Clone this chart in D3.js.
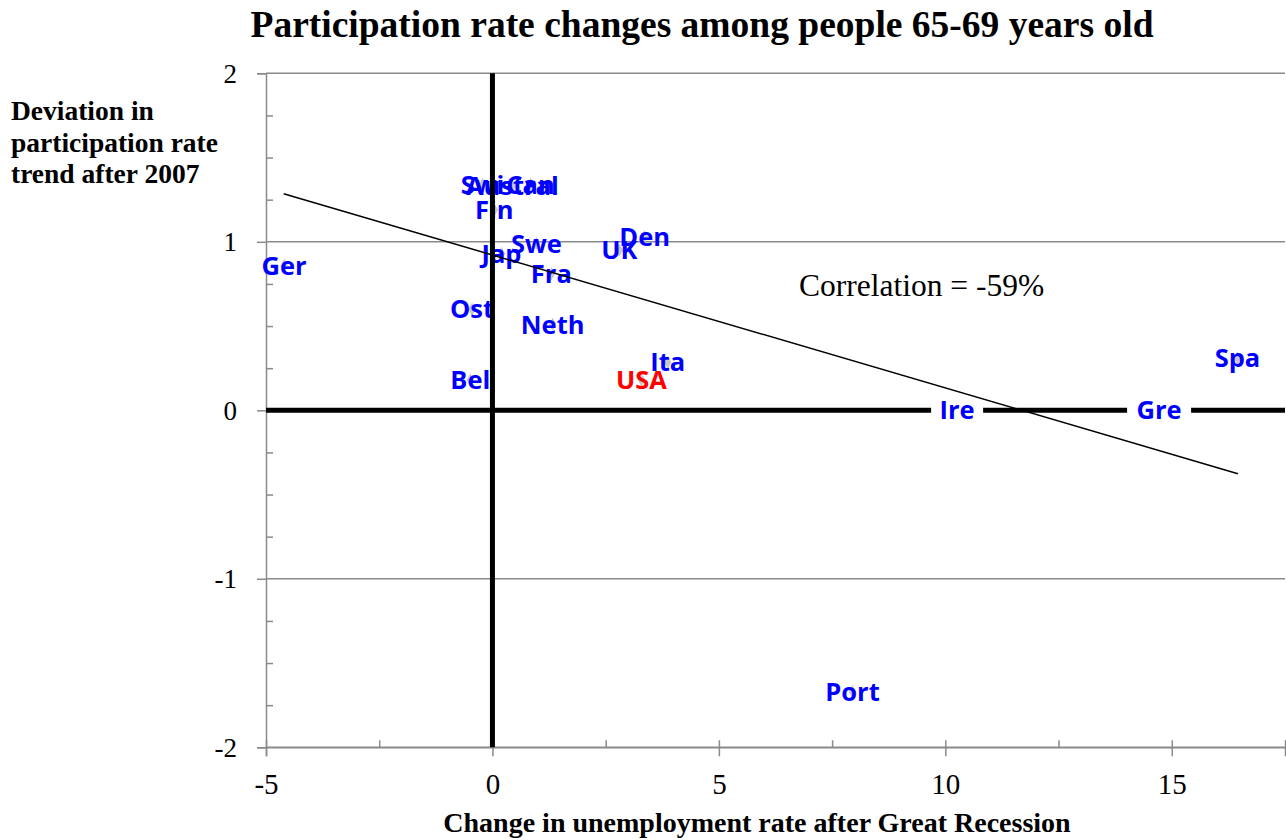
<!DOCTYPE html>
<html>
<head>
<meta charset="utf-8">
<script src="https://cdn.jsdelivr.net/npm/d3@7/dist/d3.min.js"></script>
<style>
  html, body { margin: 0; padding: 0; background: #fff; }
  svg { display: block; }
</style>
</head>
<body>
<svg id="chart" width="1286" height="840"></svg>
<script>
// ---- data ----
const countries = ["Ger", "Swi", "Austral", "Can", "Fin", "Swe", "Jap", "Fra", "UK", "Den",
                   "Ost", "Neth", "Bel", "Ita", "USA", "Ire", "Gre", "Spa", "Port"];
const unemploymentChange = [-4.6, -0.22, 0.44, 0.84, 0.04, 0.97, 0.2, 1.3, 2.8, 3.36,
                            -0.45, 1.33, -0.49, 3.87, 3.29, 10.26, 14.72, 16.45, 7.95];
const participationDeviation = [0.86, 1.34, 1.33, 1.34, 1.19, 0.99, 0.93, 0.81, 0.95, 1.03,
                                0.60, 0.51, 0.18, 0.285, 0.18, 0.0, 0.0, 0.31, -1.67];
const highlighted = ["USA"];
const boxedLabels = ["Ire", "Gre"];
const trendX = [-4.61, 16.46];
const trendY = [1.285, -0.376];
const xTicks = [-5, 0, 5, 10, 15];
const xMinorTicks = [-2.5, 2.5, 7.5, 12.5, 17.5];
const yTicks = [-2, -1, 0, 1, 2];
const yMinorTicks = [-1.75, -1.5, -1.25, -0.75, -0.5, -0.25, 0.25, 0.5, 0.75, 1.25, 1.5, 1.75];
const titleText = "Participation rate changes among people 65-69 years old";
const xTitle = "Change in unemployment rate after Great Recession";
const yTitleLines = ["Deviation in", "participation rate", "trend after 2007"];
const correlationText = "Correlation = -59%";

// ---- layout ----
const svg = d3.select("#chart");
const x = d3.scaleLinear().domain([-5, 17.5]).range([266, 1285]);
const y = d3.scaleLinear().domain([-2, 2]).range([747.3, 73.3]);
const gray = "#8a8a8a";
const serif = "'Liberation Serif', 'Times New Roman', serif";
const sans = "'Open Sans', 'Noto Sans', sans-serif";
const fmt = d => String(d);

// gridlines
svg.append("g").selectAll("line")
  .data(yTicks.filter(d => d !== 0))
  .join("line")
  .attr("x1", x(-5)).attr("x2", x(17.5))
  .attr("y1", d => y(d)).attr("y2", d => y(d))
  .attr("stroke", gray).attr("stroke-width", 1.5);

// y axis (major ticks outside)
const yAxis = svg.append("g").attr("transform", `translate(${x(-5)},0)`)
  .call(d3.axisLeft(y).tickValues(yTicks).tickSize(9).tickPadding(20).tickFormat(fmt));
// y minor ticks (inside)
const yMinor = svg.append("g").attr("transform", `translate(${x(-5)},0)`)
  .call(d3.axisRight(y).tickValues(yMinorTicks).tickSize(7).tickFormat(""));
yMinor.select(".domain").remove();

// x axis
const xAxis = svg.append("g").attr("transform", `translate(0,${y(-2)})`)
  .call(d3.axisBottom(x).tickValues(xTicks).tickSize(9).tickFormat(fmt));
xAxis.selectAll(".tick line").attr("y1", -7);
const xMinor = svg.append("g").attr("transform", `translate(0,${y(-2)})`)
  .call(d3.axisTop(x).tickValues(xMinorTicks).tickSize(7).tickFormat(""));
xMinor.select(".domain").remove();

[yAxis, yMinor, xAxis, xMinor].forEach(g => {
  g.selectAll(".domain").attr("stroke", gray).attr("stroke-width", 1.5);
  g.selectAll(".tick line").attr("stroke", gray).attr("stroke-width", 1.5);
  g.selectAll(".tick text").attr("fill", "#000").style("font-family", serif);
});
yAxis.selectAll(".tick text").attr("dy", "0.34em").style("font-size", "27px");
xAxis.selectAll(".tick text").attr("y", 47).attr("dy", 0).style("font-size", "29px");

// horizontal zero line
svg.append("line")
  .attr("x1", x(-5)).attr("x2", x(17.5))
  .attr("y1", y(0)).attr("y2", y(0))
  .attr("stroke", "#000").attr("stroke-width", 5);

// data points
const data = countries.map((c, i) => ({ name: c, xv: unemploymentChange[i], yv: participationDeviation[i] }));
const sym = d3.symbol().type(d3.symbolDiamond).size(50);
svg.append("g").selectAll("path")
  .data(data).join("path")
  .attr("transform", d => `translate(${x(d.xv)},${y(d.yv)})`)
  .attr("d", sym)
  .attr("fill", "#c8c8c8");

// labels
const lab = svg.append("g").selectAll("g")
  .data(data).join("g")
  .attr("transform", d => `translate(${x(d.xv)},${y(d.yv)})`);
lab.filter(d => boxedLabels.includes(d.name))
  .append("rect")
  .attr("x", d => d.name === "Gre" ? -32 : -26)
  .attr("width", d => d.name === "Gre" ? 64 : 52)
  .attr("y", -14).attr("height", 28)
  .attr("fill", "#fff");
lab.append("text")
  .attr("text-anchor", "middle")
  .attr("dy", "0.36em")
  .style("font-family", sans).style("font-weight", 700).style("font-size", "25.5px")
  .attr("fill", d => highlighted.includes(d.name) ? "#ff0000" : "#0000ff")
  .text(d => d.name);

// vertical zero line
svg.append("line")
  .attr("x1", x(0)).attr("x2", x(0))
  .attr("y1", y(2)).attr("y2", y(-2))
  .attr("stroke", "#000").attr("stroke-width", 5);

// trend line
svg.append("line")
  .attr("x1", x(trendX[0])).attr("y1", y(trendY[0]))
  .attr("x2", x(trendX[1])).attr("y2", y(trendY[1]))
  .attr("stroke", "#000").attr("stroke-width", 1.5);

// correlation text
svg.append("text")
  .attr("x", 799).attr("y", 296)
  .style("font-family", serif).style("font-size", "31.5px")
  .text(correlationText);

// title
svg.append("text")
  .attr("x", 702).attr("y", 37)
  .attr("text-anchor", "middle")
  .style("font-family", serif).style("font-weight", 700).style("font-size", "37.5px")
  .text(titleText);

// x title
svg.append("text")
  .attr("x", 757).attr("y", 832)
  .attr("text-anchor", "middle")
  .style("font-family", serif).style("font-weight", 700).style("font-size", "28px")
  .text(xTitle);

// y title
svg.append("text")
  .style("font-family", serif).style("font-weight", 700).style("font-size", "27.5px")
  .selectAll("tspan").data(yTitleLines).join("tspan")
  .attr("x", 11).attr("y", (d, i) => 120 + i * 31.7)
  .text(d => d);
</script>
</body>
</html>
